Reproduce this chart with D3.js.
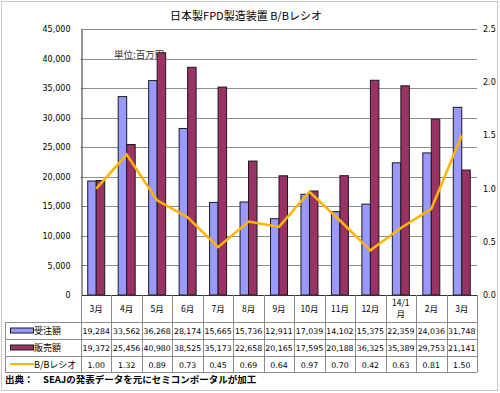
<!DOCTYPE html>
<html>
<head>
<meta charset="utf-8">
<script src="https://cdn.jsdelivr.net/npm/d3@7"></script>
<style>
  body { margin: 0; background: #fff; }
  svg text { font-family: "DejaVu Sans", "Noto Sans CJK JP", sans-serif; }
</style>
</head>
<body>
<svg id="chart" width="500" height="393"></svg>
<script>
// chart data
const months = ["3月", "4月", "5月", "6月", "7月", "8月", "9月", "10月", "11月", "12月", "14/1\n月", "2月", "3月"];
const orders = [19284, 33562, 36268, 28174, 15665, 15736, 12911, 17039, 14102, 15375, 22359, 24036, 31748];
const sales = [19372, 25456, 40980, 38525, 35173, 22658, 20165, 17595, 20188, 36325, 35389, 29753, 21141];
const ratio = [1.00, 1.32, 0.89, 0.73, 0.45, 0.69, 0.64, 0.97, 0.70, 0.42, 0.63, 0.81, 1.50];
const leftTicks = [0, 5000, 10000, 15000, 20000, 25000, 30000, 35000, 40000, 45000];
const rightTicks = [0, 0.5, 1.0, 1.5, 2.0, 2.5];
const seriesNames = ["受注額", "販売額", "B/Bレシオ"];

const svg = d3.select("#chart");
const plot = { left: 81, right: 477, top: 29, bottom: 295 };

// outer frame
svg.append("rect")
    .attr("x", 1.5).attr("y", 1.5)
    .attr("width", 496).attr("height", 389)
    .attr("fill", "#fff")
    .attr("stroke", "#c8c8c8");

const x = d3.scaleBand()
    .domain(d3.range(months.length))
    .range([plot.left, plot.right])
    .padding(0);

const y = d3.scaleLinear().domain([0, 45000]).range([plot.bottom, plot.top]);
const y2 = d3.scaleLinear().domain([0, 2.5]).range([plot.bottom, plot.top]);

// title
svg.append("text")
    .attr("x", 246).attr("y", 20)
    .attr("text-anchor", "middle")
    .style("font-family", "'Noto Sans CJK JP', sans-serif")
    .style("font-size", "11px")
    .text("日本製FPD製造装置 B/Bレシオ");

// grid
svg.append("g")
    .selectAll("line")
    .data(leftTicks.filter(d => d > 0))
    .enter().append("line")
    .attr("x1", plot.left).attr("x2", plot.right)
    .attr("y1", d => Math.round(y(d)) + 0.5)
    .attr("y2", d => Math.round(y(d)) + 0.5)
    .attr("stroke", "#8c8c8c");

// unit note (sits under the bars)
svg.append("text")
    .attr("x", 114).attr("y", 58)
    .style("font-size", "9.5px")
    .style("font-family", "'Noto Sans CJK JP', sans-serif")
    .attr("fill", "#333")
    .text("単位:百万円");

// left axis
const leftAxis = svg.append("g")
    .attr("transform", `translate(${plot.left + 0.5},0)`)
    .call(d3.axisLeft(y).tickValues(leftTicks).tickSize(0).tickPadding(11)
        .tickFormat(d3.format(",")));
leftAxis.select(".domain").attr("stroke", "#333");
leftAxis.selectAll("text").style("font-size", "8px").attr("fill", "#000");

// right axis
const rightAxis = svg.append("g")
    .attr("transform", `translate(${plot.right},0)`)
    .call(d3.axisRight(y2).tickValues(rightTicks).tickSize(0).tickPadding(6)
        .tickFormat(d3.format(".1f")));
rightAxis.select(".domain").remove();
rightAxis.selectAll("text").style("font-size", "8px").attr("fill", "#000");

// bars
const barW = 8.5;
const bars = svg.append("g");
bars.selectAll("rect.orders")
    .data(orders)
    .enter().append("rect")
    .attr("class", "orders")
    .attr("x", (d, i) => x(i) + x.bandwidth() / 2 - barW)
    .attr("y", d => y(d))
    .attr("width", barW)
    .attr("height", d => plot.bottom - y(d))
    .attr("fill", "#9999ff")
    .attr("stroke", "#1a1a1a")
    .attr("stroke-width", 1);

bars.selectAll("rect.sales")
    .data(sales)
    .enter().append("rect")
    .attr("class", "sales")
    .attr("x", (d, i) => x(i) + x.bandwidth() / 2)
    .attr("y", d => y(d))
    .attr("width", barW)
    .attr("height", d => plot.bottom - y(d))
    .attr("fill", "#993366")
    .attr("stroke", "#1a1a1a")
    .attr("stroke-width", 1);

// ratio line
const line = d3.line()
    .x((d, i) => x(i) + x.bandwidth() / 2)
    .y(d => y2(d));

svg.append("path")
    .datum(ratio)
    .attr("d", line)
    .attr("fill", "none")
    .attr("stroke", "#ffb400")
    .attr("stroke-width", 2.5)
    .attr("stroke-linejoin", "miter");

// bottom axis line
svg.append("line")
    .attr("x1", plot.left).attr("x2", plot.right)
    .attr("y1", plot.bottom + 0.5).attr("y2", plot.bottom + 0.5)
    .attr("stroke", "#333");

// data table
const rowY = [plot.bottom, 322, 339, 356, 372];
const tableLeft = 5;
const table = svg.append("g");
const gridColor = "#8c8c8c";

// horizontal lines
table.selectAll("line.h")
    .data(rowY.slice(1))
    .enter().append("line")
    .attr("x1", tableLeft).attr("x2", plot.right)
    .attr("y1", d => d + 0.5).attr("y2", d => d + 0.5)
    .attr("stroke", gridColor);

// vertical lines
const colEdges = d3.range(months.length + 1).map(i => i < months.length ? x(i) : plot.right);
table.selectAll("line.v")
    .data(colEdges)
    .enter().append("line")
    .attr("x1", d => Math.round(d) + 0.5).attr("x2", d => Math.round(d) + 0.5)
    .attr("y1", plot.bottom).attr("y2", rowY[4])
    .attr("stroke", gridColor);

table.append("line")
    .attr("x1", tableLeft + 0.5).attr("x2", tableLeft + 0.5)
    .attr("y1", rowY[1]).attr("y2", rowY[4])
    .attr("stroke", gridColor);

// month headers
months.forEach((m, i) => {
    const parts = m.split("\n");
    const cx = x(i) + x.bandwidth() / 2;
    const t = table.append("text")
        .attr("text-anchor", "middle")
        .style("font-size", "8.5px")
        .style("font-family", "'Noto Sans CJK JP', sans-serif");
    if (parts.length === 1) {
        t.append("tspan").attr("x", cx).attr("y", 312).text(parts[0]);
    } else {
        t.append("tspan").attr("x", cx).attr("y", 306).text(parts[0]);
        t.append("tspan").attr("x", cx).attr("y", 317).text(parts[1]);
    }
});

// value rows
const rows = [
    orders.map(d3.format(",")),
    sales.map(d3.format(",")),
    ratio.map(d3.format(".2f"))
];
rows.forEach((vals, r) => {
    table.selectAll(null)
        .data(vals)
        .enter().append("text")
        .attr("x", (d, i) => x(i) + x.bandwidth() / 2)
        .attr("y", (rowY[r + 1] + rowY[r + 2]) / 2 + 3.5)
        .attr("text-anchor", "middle")
        .style("font-size", "7.8px")
        .text(d => d);
});

// legend keys in table
const keyY = [330.5, 347.5, 364];
table.append("rect")
    .attr("x", 10.5).attr("y", keyY[0] - 2.5).attr("width", 23).attr("height", 5)
    .attr("fill", "#9999ff").attr("stroke", "#1a1a1a");
table.append("rect")
    .attr("x", 10.5).attr("y", keyY[1] - 2.5).attr("width", 23).attr("height", 5)
    .attr("fill", "#993366").attr("stroke", "#1a1a1a");
table.append("line")
    .attr("x1", 10).attr("x2", 34).attr("y1", keyY[2]).attr("y2", keyY[2])
    .attr("stroke", "#ffb400").attr("stroke-width", 2);
seriesNames.forEach((name, i) => {
    table.append("text")
        .attr("x", 34).attr("y", keyY[i] + 3.5)
        .style("font-size", "9px")
        .style("font-family", "'Noto Sans CJK JP', sans-serif")
        .text(name);
});

// source
svg.append("text")
    .attr("x", 5).attr("y", 383)
    .style("font-size", "9.5px")
    .style("font-weight", "bold")
    .style("font-family", "'Noto Sans CJK JP', sans-serif")
    .text("出典：　SEAJの発表データを元にセミコンポータルが加工");
</script>
</body>
</html>
